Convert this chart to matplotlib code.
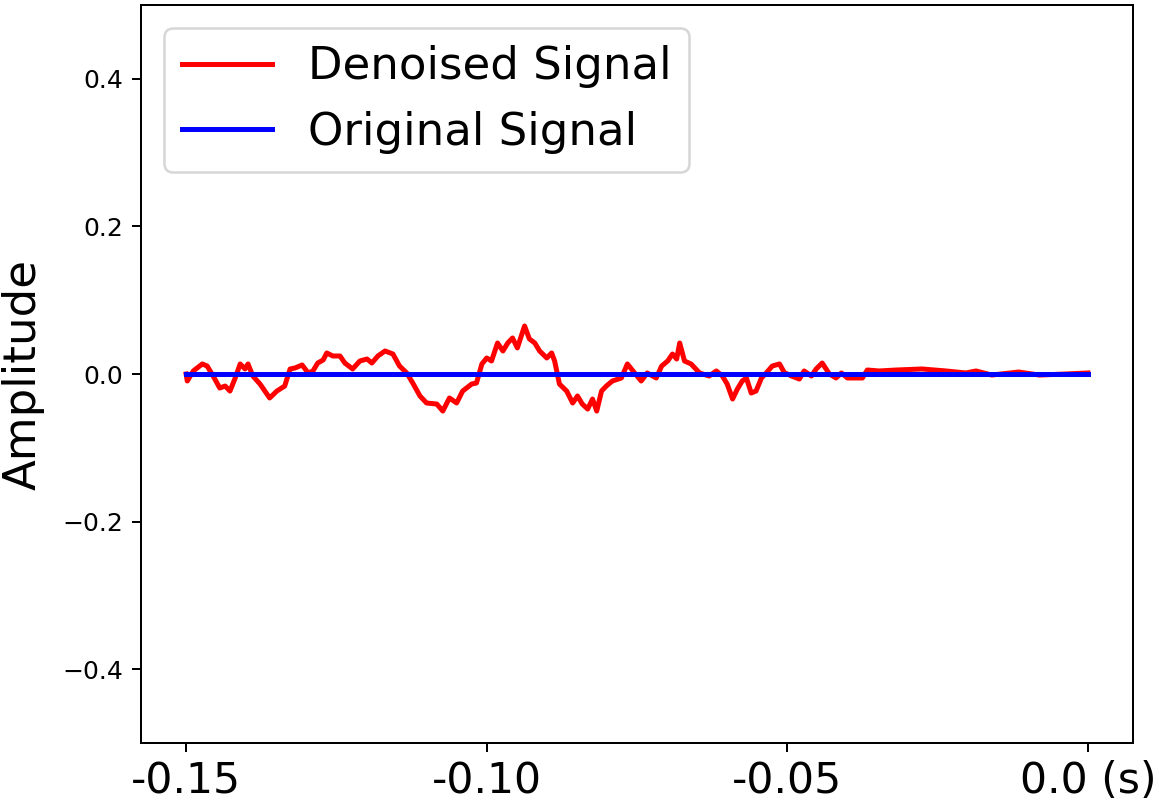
import matplotlib
matplotlib.use("Agg")
import matplotlib.pyplot as plt

# denoised signal (time in s, amplitude)
den_t = [-0.1500, -0.1498, -0.1488, -0.1473, -0.1465, -0.1455, -0.1444, -0.1435,
         -0.1427, -0.1419, -0.1410, -0.1402, -0.1397, -0.1389, -0.1377, -0.1369,
         -0.1361, -0.1349, -0.1336, -0.1327, -0.1319, -0.1307, -0.1297, -0.1289,
         -0.1281, -0.1272, -0.1266, -0.1256, -0.1244, -0.1236, -0.1223, -0.1211,
         -0.1199, -0.1191, -0.1181, -0.1169, -0.1156, -0.1145, -0.1133, -0.1123,
         -0.1111, -0.1100, -0.1083, -0.1073, -0.1062, -0.1050, -0.1040, -0.1025,
         -0.1017, -0.1008, -0.1000, -0.0992, -0.0982, -0.0973, -0.0965, -0.0957,
         -0.0949, -0.0937, -0.0929, -0.0920, -0.0912, -0.0900, -0.0892, -0.0887,
         -0.0879, -0.0867, -0.0857, -0.0849, -0.0841, -0.0832, -0.0824, -0.0817,
         -0.0809, -0.0801, -0.0791, -0.0776, -0.0766, -0.0754, -0.0743, -0.0733,
         -0.0718, -0.0709, -0.0699, -0.0691, -0.0684, -0.0679, -0.0671, -0.0660,
         -0.0646, -0.0630, -0.0618, -0.0608, -0.0600, -0.0591, -0.0583, -0.0575,
         -0.0568, -0.0560, -0.0552, -0.0543, -0.0535, -0.0525, -0.0513, -0.0505,
         -0.0493, -0.0480, -0.0472, -0.0460, -0.0452, -0.0442, -0.0430, -0.0419,
         -0.0410, -0.0400, -0.0385, -0.0375, -0.0367, -0.0347, -0.0319, -0.0276,
         -0.0236, -0.0203, -0.0186, -0.0160, -0.0115, -0.0081, -0.0037, 0.0]
den_amp = [0.0, -0.0095, 0.0041, 0.0136, 0.0108, -0.0027, -0.0190, -0.0163,
           -0.0231, -0.0068, 0.0136, 0.0068, 0.0136, -0.0027, -0.0136, -0.0231,
           -0.0325, -0.0231, -0.0163, 0.0068, 0.0081, 0.0122, 0.0014, 0.0041,
           0.0149, 0.0190, 0.0285, 0.0244, 0.0244, 0.0149, 0.0068, 0.0176,
           0.0203, 0.0149, 0.0244, 0.0312, 0.0271, 0.0108, 0.0014, -0.0122,
           -0.0298, -0.0393, -0.0407, -0.0502, -0.0325, -0.0393, -0.0231, -0.0136,
           -0.0122, 0.0136, 0.0217, 0.0176, 0.0420, 0.0312, 0.0420, 0.0488,
           0.0353, 0.0651, 0.0475, 0.0420, 0.0312, 0.0217, 0.0285, 0.0176,
           -0.0136, -0.0231, -0.0393, -0.0298, -0.0407, -0.0475, -0.0339, -0.0502,
           -0.0231, -0.0163, -0.0095, -0.0054, 0.0136, 0.0014, -0.0095, 0.0014,
           -0.0054, 0.0108, 0.0176, 0.0271, 0.0203, 0.0420, 0.0176, 0.0136,
           0.0014, -0.0027, 0.0041, -0.0027, -0.0136, -0.0339, -0.0203, -0.0095,
           -0.0054, -0.0258, -0.0231, -0.0054, 0.0014, 0.0108, 0.0136, 0.0020,
           -0.0027, -0.0068, 0.0041, -0.0027, 0.0068, 0.0149, 0.0, -0.0054,
           0.0014, -0.0054, -0.0054, -0.0054, 0.0054, 0.0041, 0.0054, 0.0068,
           0.0041, 0.0014, 0.0041, -0.0014, 0.0027, -0.0014, 0.0, 0.0014]

# original signal is flat zero over the window
orig_t = [-0.15, 0.0]
orig_amp = [0.0, 0.0]

xticks = [-0.15, -0.10, -0.05, 0.0]
xtick_labels = ['-0.15', '-0.10', '-0.05', '0.0 (s)']
yticks = [-0.4, -0.2, 0.0, 0.2, 0.4]

fig = plt.figure(figsize=(1159/180., 805/180.), dpi=180)
ax = fig.add_axes([141/1159., 62/805., 992/1159., 738/805.])

ax.plot(den_t, den_amp, color='red', linewidth=2, label='Denoised Signal')
ax.plot(orig_t, orig_amp, color='blue', linewidth=2, label='Original Signal')

ax.set_ylim(-0.5, 0.5)
ax.set_yticks(yticks)
ax.set_xticks(xticks)
ax.set_xticklabels(xtick_labels, fontsize=17)
ax.set_ylabel('Amplitude', fontsize=18, labelpad=7)
ax.legend(loc='upper left', fontsize=18)

fig.savefig('out.png', dpi=180)
